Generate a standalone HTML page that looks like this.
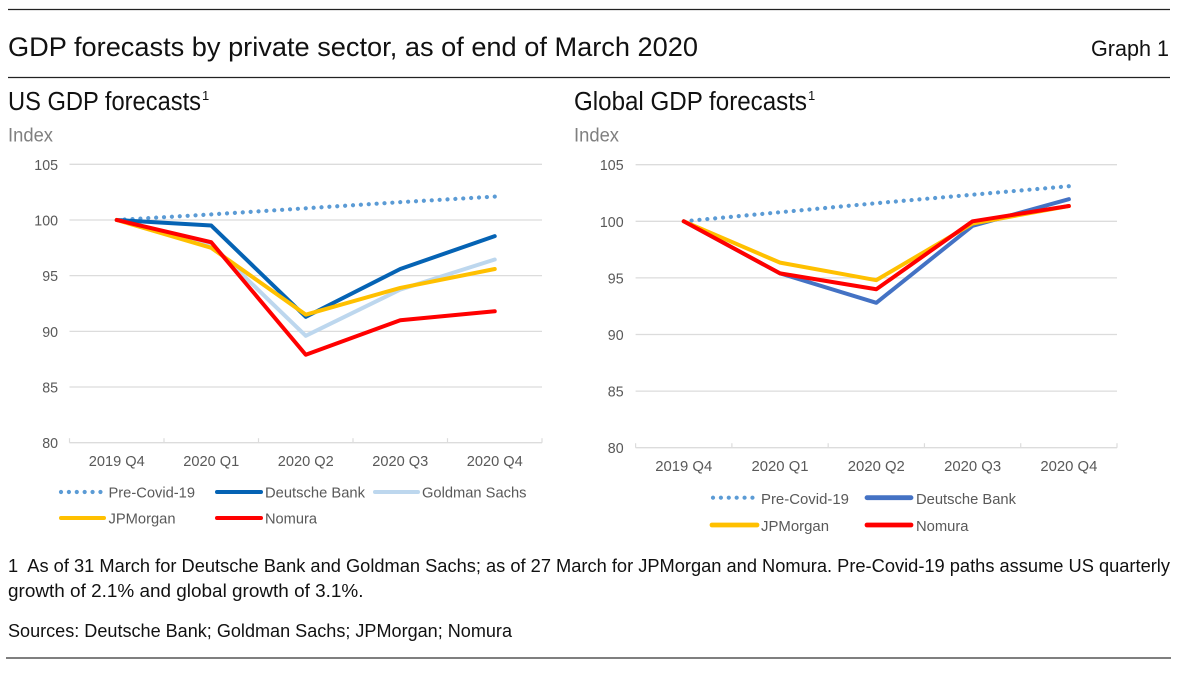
<!DOCTYPE html>
<html lang="en">
<head>
<meta charset="utf-8">
<title>GDP forecasts by private sector</title>
<style>
html,body{margin:0;padding:0;background:#fff;}
svg{display:block;}
text{font-family:"Liberation Sans",sans-serif;}
.head{fill:#111;}
.idx{fill:#7f7f7f;font-size:19.5px;}
.tick{fill:#595959;font-size:15px;}
.leg{fill:#595959;font-size:15px;}
.note{fill:#111;font-size:18.5px;}
</style>
</head>
<body>
<svg id="page" xmlns="http://www.w3.org/2000/svg" width="1200" height="674" viewBox="0 0 1200 674">
  <line x1="8" x2="1170" y1="9.5" y2="9.5" stroke="#222" stroke-width="1.2"/>
  <text class="head" x="8" y="56" font-size="27" textLength="690" lengthAdjust="spacingAndGlyphs">GDP forecasts by private sector, as of end of March 2020</text>
  <text class="head" x="1091" y="56" font-size="22" textLength="78" lengthAdjust="spacingAndGlyphs">Graph 1</text>
  <line x1="8" x2="1170" y1="77.5" y2="77.5" stroke="#222" stroke-width="1.2"/>

  <text class="head" x="8" y="110" font-size="25.5" textLength="193" lengthAdjust="spacingAndGlyphs">US GDP forecasts</text>
  <text class="head" x="202" y="100" font-size="13">1</text>
  <text class="idx" x="8" y="141.5" textLength="45" lengthAdjust="spacingAndGlyphs">Index</text>

  <text class="head" x="574" y="110" font-size="25.5" textLength="233" lengthAdjust="spacingAndGlyphs">Global GDP forecasts</text>
  <text class="head" x="808" y="100" font-size="13">1</text>
  <text class="idx" x="574" y="141.5" textLength="45" lengthAdjust="spacingAndGlyphs">Index</text>

  <g id="us-chart"></g>
  <g id="global-chart"></g>

  <g>
    <g>
      <line x1="61" x2="104" y1="492" y2="492" stroke="#5b9bd5" stroke-width="4.2" stroke-linecap="round" stroke-dasharray="0.01 7.88"/>
      <text class="leg" x="108.5" y="497.5" textLength="86.5" lengthAdjust="spacingAndGlyphs">Pre-Covid-19</text>
    </g>
    <g>
      <line x1="217" x2="261" y1="492" y2="492" stroke="#0563b4" stroke-width="4" stroke-linecap="round"/>
      <text class="leg" x="265" y="497.5" textLength="100" lengthAdjust="spacingAndGlyphs">Deutsche Bank</text>
    </g>
    <g>
      <line x1="375" x2="418" y1="492" y2="492" stroke="#bdd7ee" stroke-width="4" stroke-linecap="round"/>
      <text class="leg" x="422" y="497.5" textLength="104.5" lengthAdjust="spacingAndGlyphs">Goldman Sachs</text>
    </g>
    <g>
      <line x1="61" x2="104" y1="518" y2="518" stroke="#ffc000" stroke-width="4" stroke-linecap="round"/>
      <text class="leg" x="108.5" y="523.5" textLength="67" lengthAdjust="spacingAndGlyphs">JPMorgan</text>
    </g>
    <g>
      <line x1="217" x2="261" y1="518" y2="518" stroke="#ff0000" stroke-width="4" stroke-linecap="round"/>
      <text class="leg" x="265" y="523.5" textLength="52" lengthAdjust="spacingAndGlyphs">Nomura</text>
    </g>
  </g>

  <g>
    <g>
      <line x1="713" x2="756" y1="497.7" y2="497.7" stroke="#5b9bd5" stroke-width="4.2" stroke-linecap="round" stroke-dasharray="0.01 7.88"/>
      <text class="leg" x="761" y="504" textLength="88" lengthAdjust="spacingAndGlyphs">Pre-Covid-19</text>
    </g>
    <g>
      <line x1="867" x2="911" y1="497.7" y2="497.7" stroke="#4472c4" stroke-width="4.8" stroke-linecap="round"/>
      <text class="leg" x="916" y="504" textLength="100" lengthAdjust="spacingAndGlyphs">Deutsche Bank</text>
    </g>
    <g>
      <line x1="712" x2="757" y1="525" y2="525" stroke="#ffc000" stroke-width="4.8" stroke-linecap="round"/>
      <text class="leg" x="761" y="531" textLength="68" lengthAdjust="spacingAndGlyphs">JPMorgan</text>
    </g>
    <g>
      <line x1="867" x2="911" y1="525" y2="525" stroke="#ff0000" stroke-width="4.8" stroke-linecap="round"/>
      <text class="leg" x="916" y="531" textLength="52.5" lengthAdjust="spacingAndGlyphs">Nomura</text>
    </g>
  </g>

  <text class="note" x="8" y="572" textLength="1162" lengthAdjust="spacingAndGlyphs" xml:space="preserve">1  As of 31 March for Deutsche Bank and Goldman Sachs; as of 27 March for JPMorgan and Nomura. Pre-Covid-19 paths assume US quarterly</text>
  <text class="note" x="8" y="597" textLength="355.5" lengthAdjust="spacingAndGlyphs">growth of 2.1% and global growth of 3.1%.</text>
  <text class="note" x="8" y="637" textLength="504" lengthAdjust="spacingAndGlyphs">Sources: Deutsche Bank; Goldman Sachs; JPMorgan; Nomura</text>
  <line x1="6" x2="1171" y1="658" y2="658" stroke="#555" stroke-width="1.4"/>
</svg>

<script>
var quarters = ["2019 Q4", "2020 Q1", "2020 Q2", "2020 Q3", "2020 Q4"];
var yTicks = [80, 85, 90, 95, 100, 105];

var usPreCovid = [100, 100.5, 101.05, 101.6, 102.1];
var usDeutsche = [100, 99.5, 91.3, 95.6, 98.55];
var usGoldman = [100, 97.8, 89.6, 93.75, 96.45];
var usJPMorgan = [100, 97.5, 91.5, 93.9, 95.6];
var usNomura = [100, 98, 87.9, 91, 91.8];

var globalPreCovid = [100, 100.8, 101.6, 102.35, 103.1];
var globalDeutsche = [100, 95.4, 92.8, 99.6, 101.95];
var globalJPMorgan = [100, 96.35, 94.8, 99.8, 101.35];
var globalNomura = [100, 95.4, 94.0, 100, 101.35];

var SVGNS = "http://www.w3.org/2000/svg";

function make(tag, parent, attrs) {
  var el = document.createElementNS(SVGNS, tag);
  for (var k in attrs) { el.setAttribute(k, attrs[k]); }
  parent.appendChild(el);
  return el;
}

function drawChart(rootId, prefix, box, series) {
  var root = document.getElementById(rootId);
  var band = (box.right - box.left) / quarters.length;
  function xAt(i) { return box.left + band * (i + 0.5); }
  function yAt(v) { return box.bottom - (v - 80) * (box.bottom - box.top) / 25; }

  yTicks.forEach(function (t) {
    var isAxis = t === 80;
    var line = make("line", root, {
      x1: box.left, x2: box.right, y1: yAt(t), y2: yAt(t),
      stroke: "#dcdcdc", "stroke-width": 1.3
    });
    
    
    var label = make("text", root, {
      x: box.left - box.labelGap, y: yAt(t) + box.labelDy, "text-anchor": "end", "class": "tick",
      textLength: String(t).length * 7.9, lengthAdjust: "spacingAndGlyphs"
    });
    label.textContent = t;
    
    
  });

  for (var i = 0; i <= quarters.length; i++) {
    var tx = box.left + band * i;
    var tick = make("line", root, {
      x1: tx, x2: tx, y1: yAt(80) - 4.5, y2: yAt(80),
      stroke: "#dcdcdc", "stroke-width": 1.2
    });
    
    
  }

  quarters.forEach(function (q, i) {
    var label = make("text", root, {
      x: xAt(i), y: box.xLabelY, "text-anchor": "middle", "class": "tick",
      textLength: box.xLabelWidth, lengthAdjust: "spacingAndGlyphs"
    });
    label.textContent = q;
    
    
  });

  series.forEach(function (s) {
    var pts = s.values.map(function (v, i) { return xAt(i).toFixed(2) + "," + yAt(v).toFixed(2); }).join(" ");
    var attrs = {
      points: pts, fill: "none", stroke: s.color, "stroke-width": s.width,
      "stroke-linecap": "round", "stroke-linejoin": "round"
    };
    if (s.dotted) { attrs["stroke-dasharray"] = "0.01 7.88"; }
    var line = make("polyline", root, attrs);
    
    
  });
}

drawChart("us-chart", "us",
  { left: 69.5, right: 542, top: 164.3, bottom: 442.7, labelGap: 11.5, labelDy: 5.5, xLabelY: 466, xLabelWidth: 56 },
  [
    { key: "pre-covid", values: usPreCovid, color: "#5b9bd5", width: 4.2, dotted: true },
    { key: "deutsche-bank", values: usDeutsche, color: "#0563b4", width: 4 },
    { key: "goldman-sachs", values: usGoldman, color: "#bdd7ee", width: 4 },
    { key: "jpmorgan", values: usJPMorgan, color: "#ffc000", width: 4 },
    { key: "nomura", values: usNomura, color: "#ff0000", width: 4 }
  ]);

drawChart("global-chart", "global",
  { left: 635.6, right: 1117, top: 164.7, bottom: 447.7, labelGap: 12, labelDy: 5.5, xLabelY: 471, xLabelWidth: 57 },
  [
    { key: "pre-covid", values: globalPreCovid, color: "#5b9bd5", width: 4.2, dotted: true },
    { key: "deutsche-bank", values: globalDeutsche, color: "#4472c4", width: 4 },
    { key: "jpmorgan", values: globalJPMorgan, color: "#ffc000", width: 4 },
    { key: "nomura", values: globalNomura, color: "#ff0000", width: 4 }
  ]);
</script>
</body>
</html>
